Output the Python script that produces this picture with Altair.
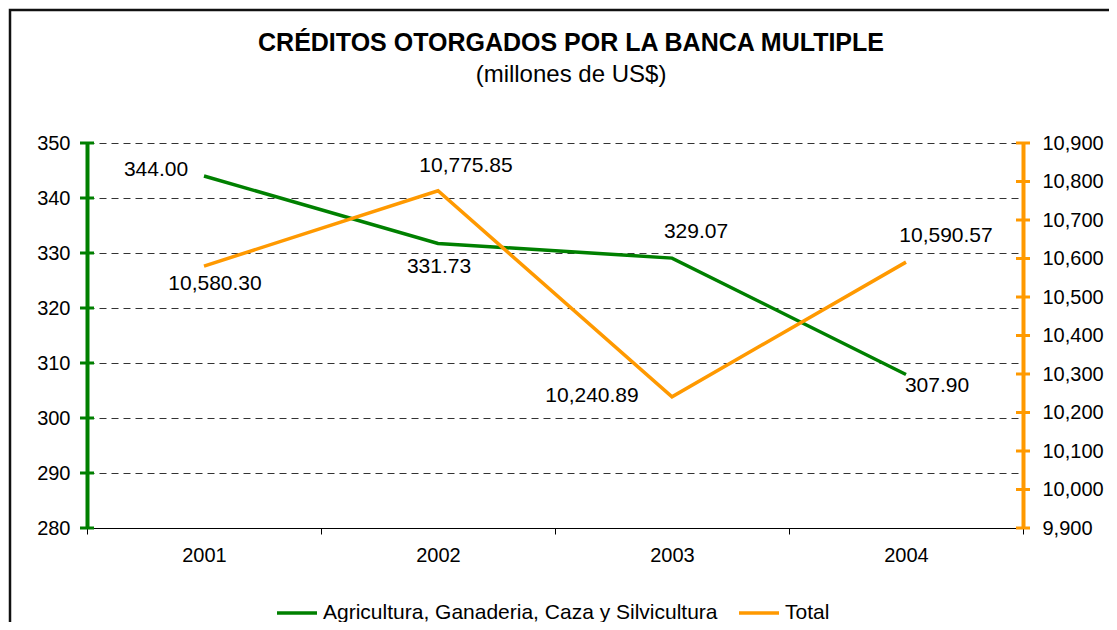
import altair as alt
import pandas as pd

# ---- data ----
years = ["2001", "2002", "2003", "2004"]
agri = [344.00, 331.73, 329.07, 307.90]
total = [10580.30, 10775.85, 10240.89, 10590.57]
left_ticks = [280, 290, 300, 310, 320, 330, 340, 350]
right_ticks = [9900, 10000, 10100, 10200, 10300, 10400, 10500, 10600, 10700, 10800, 10900]
series_names = ["Agricultura, Ganaderia, Caza y Silvicultura", "Total"]
title_text = ["CRÉDITOS OTORGADOS POR LA BANCA MULTIPLE"]
subtitle_text = ["(millones de US$)"]

# ---- styling (label offsets in px) ----
agri_offsets = [(-48, -6), (1, 24), (24, -26), (31, 11)]
total_offsets = [(11, 18), (28, -25), (-80, -1), (40, -26)]

W, H = 936, 385
FONT = "Liberation Sans"
GREEN = "#008000"
ORANGE = "#FF9900"
FS = 20
LFS = 21

df_a = pd.DataFrame({"year": years, "value": agri, "series": series_names[0]})
df_t = pd.DataFrame({"year": years, "value": total, "series": series_names[1]})

x_axis = alt.Axis(labelAngle=0, tickBand="extent", domainColor="black", domainWidth=1,
                  tickColor="black", tickSize=6, tickWidth=1, labelPadding=11,
                  labelFont=FONT, labelFontSize=FS, labelColor="black", grid=False, title=None)
x_scale = alt.Scale(type="band", paddingInner=0, paddingOuter=0)


def xenc():
    return alt.X("year:N", sort=years, bandPosition=0.5, scale=x_scale, axis=x_axis, title=None)


left_scale = alt.Scale(domain=[280, 350], nice=False, zero=False)
right_scale = alt.Scale(domain=[9900, 10900], nice=False, zero=False)
left_axis = alt.Axis(orient="left", values=left_ticks, format=".0f", grid=True, gridDash=[7, 5],
                     gridColor="#333333", gridWidth=1, domainColor=GREEN, domainWidth=4,
                     ticks=False, labelPadding=17, labelFont=FONT, labelFontSize=FS,
                     labelColor="black", title=None)
right_axis = alt.Axis(orient="right", values=right_ticks, format=",.0f", grid=False,
                      domainColor=ORANGE, domainWidth=4, ticks=False, labelPadding=19,
                      labelFont=FONT, labelFontSize=FS, labelColor="black", title=None)

color_enc = alt.Color("series:N",
                      scale=alt.Scale(domain=series_names, range=[GREEN, ORANGE]),
                      legend=alt.Legend(title=None, orient="none", legendX=188, legendY=448,
                                        direction="horizontal", symbolType="stroke",
                                        symbolSize=1600, symbolStrokeWidth=3.5,
                                        labelFont=FONT, labelFontSize=21, labelColor="black",
                                        labelLimit=0, labelOffset=4, columnPadding=14))


def make_side(df, scale, axis, color, offsets, tick_values, tick_x):
    line = alt.Chart(df).mark_line(strokeWidth=3.5).encode(
        x=xenc(), y=alt.Y("value:Q", scale=scale, axis=axis, title=None), color=color_enc)
    ticks = alt.Chart(pd.DataFrame({"value": tick_values})).mark_rule(
        color=color, strokeWidth=3).encode(
        y=alt.Y("value:Q", scale=scale, axis=axis, title=None),
        x=alt.value(tick_x - 7), x2=alt.value(tick_x + 7))
    layers = [ticks, line]
    for i, (dx, dy) in enumerate(offsets):
        layers.append(
            alt.Chart(df.iloc[[i]]).mark_text(dx=dx, dy=dy, font=FONT, fontSize=LFS,
                                              align="center", baseline="middle",
                                              color="black").encode(
                x=xenc(), y=alt.Y("value:Q", scale=scale, axis=axis, title=None),
                text=alt.Text("value:Q", format=",.2f")))
    return alt.layer(*layers)


left = make_side(df_a, left_scale, left_axis, GREEN, agri_offsets, left_ticks, 0)
right = make_side(df_t, right_scale, right_axis, ORANGE, total_offsets, right_ticks, W)

frame = alt.Chart(pd.DataFrame({"a": [0]})).mark_rect(
    filled=False, stroke="#111111", strokeWidth=2.5).encode(
    x=alt.value(-77), x2=alt.value(1200), y=alt.value(-133), y2=alt.value(700))

title = alt.Chart(pd.DataFrame({"t": title_text})).mark_text(
    font=FONT, fontSize=25, fontWeight="bold", align="center", baseline="middle",
    color="black").encode(x=alt.value(484), y=alt.value(-100), text="t:N")
subtitle = alt.Chart(pd.DataFrame({"t": subtitle_text})).mark_text(
    font=FONT, fontSize=24, align="center", baseline="middle",
    color="black").encode(x=alt.value(484), y=alt.value(-68), text="t:N")

chart = alt.layer(frame, title, subtitle, left, right).resolve_scale(
    y="independent").properties(
    width=W, height=H,
    padding={"left": 79, "top": 135, "right": 86, "bottom": 94},
    autosize=alt.AutoSizeParams(type="none"),
    background="white",
).configure_view(stroke=None)

chart.save("out.html", embed_options={"renderer": "svg", "actions": False})
